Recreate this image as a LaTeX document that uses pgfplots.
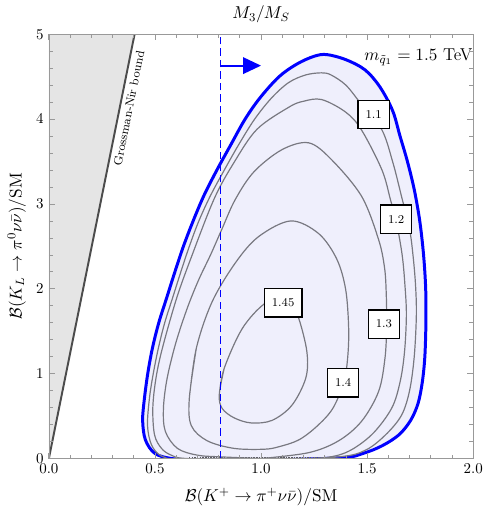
\documentclass[border=0pt]{standalone}
\usepackage{fix-cm}
\usepackage{pgfplots}
\pgfplotsset{compat=1.18}
\usetikzlibrary{arrows.meta}
\definecolor{lav}{rgb}{0.937,0.937,0.988}
\definecolor{cgray}{rgb}{0.47,0.47,0.5}
\definecolor{axgray}{rgb}{0.6,0.6,0.6}
\definecolor{gnfill}{rgb}{0.9,0.9,0.9}
\definecolor{gnline}{rgb}{0.3,0.3,0.3}
\definecolor{noise}{rgb}{0.35,0.35,0.38}
\newcommand{\lbl}{\fontsize{11.5}{13}\selectfont}
\tikzset{
    contour/.style={cgray, line width=0.8pt, smooth, tension=0.55},
    clabel/.style={draw=black, line width=0.9pt, fill=white, font=\footnotesize,
        inner xsep=5pt, minimum width=20pt, minimum height=19pt},
}
\begin{document}
\begin{tikzpicture}
\begin{axis}[
    scale only axis, width=284pt, height=284pt,
    xmin=0, xmax=2, ymin=0, ymax=5,
    xtick={0,0.5,1,1.5,2}, ytick={0,1,2,3,4,5},
    minor x tick num=4, minor y tick num=4,
    xticklabel style={/pgf/number format/fixed, /pgf/number format/fixed zerofill, /pgf/number format/precision=1},
    axis line style={axgray}, tick style={axgray, line width=0.5pt},
    major tick length=4pt, minor tick length=2.5pt,
    xlabel={\lbl $\mathcal{B}(K^+\to\pi^+\nu\bar\nu)/\mathrm{SM}$},
    ylabel={\lbl $\mathcal{B}(K_L\to\pi^0\nu\bar\nu)/\mathrm{SM}$},
    xlabel style={yshift=-3pt},
    title={\lbl $M_3/M_S$},
    title style={yshift=-2pt},
    axis on top,
]
% Grossman-Nir excluded region
\addplot[fill=gnfill, draw=none] coordinates {(0,0) (0.404,5) (0,5)} -- cycle;
\addplot[gnline, line width=1.3pt] coordinates {(0,0) (0.404,5)};

% outer boundary (blue)
\addplot[draw=blue, line width=2pt, fill=lav, smooth, tension=0.55] coordinates {
(1.0,-0.02) (1.38,0.01) (1.48,0.06) (1.57,0.15) (1.65,0.28) (1.705,0.45) (1.74,0.65)
(1.760,0.90) (1.772,1.20) (1.777,1.60) (1.776,2.00) (1.766,2.40) (1.748,2.80)
(1.722,3.17) (1.690,3.50) (1.655,3.80) (1.620,4.10) (1.560,4.38) (1.49,4.58)
(1.40,4.70) (1.31,4.76) (1.25,4.74) (1.17,4.65) (1.085,4.50) (0.995,4.25)
(0.925,4.00) (0.858,3.70) (0.792,3.40) (0.731,3.10) (0.680,2.80) (0.634,2.50)
(0.594,2.20) (0.556,1.90) (0.518,1.60) (0.488,1.30) (0.466,1.00) (0.450,0.70)
(0.442,0.45) (0.455,0.22) (0.50,0.06) (0.58,0.00) (0.70,-0.02) (1.0,-0.02)};

% numerical noise along the lower edge
\addplot[draw=noise, line width=0.8pt, dash pattern=on 1pt off 0.8pt] coordinates {(0.66,0.015) (1.33,0.015)};

% 1.1
\addplot[contour] coordinates {
(1.0,-0.02) (1.366,0.02) (1.493,0.10) (1.587,0.28) (1.662,0.51) (1.700,0.80)
(1.722,1.20) (1.732,1.69) (1.728,2.05) (1.716,2.40) (1.700,2.70) (1.662,3.09)
(1.620,3.50) (1.568,3.88) (1.465,4.20) (1.40,4.40) (1.33,4.52) (1.285,4.545)
(1.21,4.52) (1.13,4.43) (1.05,4.25) (0.970,4.00) (0.895,3.70) (0.827,3.40)
(0.762,3.10) (0.707,2.80) (0.662,2.50) (0.622,2.20) (0.584,1.90) (0.546,1.60)
(0.516,1.30) (0.492,1.00) (0.474,0.71) (0.465,0.39) (0.484,0.16) (0.531,0.03)
(0.620,-0.01) (1.0,-0.02)};
% 1.2
\addplot[contour] coordinates {
(1.0,-0.02) (1.258,0.0) (1.399,0.07) (1.521,0.28) (1.615,0.59) (1.655,0.90)
(1.676,1.25) (1.685,1.69) (1.678,2.05) (1.665,2.40) (1.637,2.80) (1.610,3.05)
(1.570,3.40) (1.474,3.87) (1.40,4.08) (1.286,4.23) (1.20,4.21) (1.131,4.14)
(0.981,3.88) (0.873,3.49) (0.779,3.06) (0.668,2.35) (0.601,1.88) (0.535,1.30)
(0.505,0.95) (0.490,0.60) (0.498,0.28) (0.531,0.12) (0.577,0.04) (0.653,0.0)
(1.0,-0.02)};
% 1.3
\addplot[contour] coordinates {
(1.0,0.0) (1.225,0.07) (1.366,0.21) (1.474,0.44) (1.554,0.79) (1.584,1.18)
(1.592,1.56) (1.590,1.95) (1.582,2.25) (1.554,2.58) (1.474,3.09) (1.333,3.52)
(1.225,3.72) (1.099,3.64) (0.967,3.38) (0.878,3.05) (0.815,2.70) (0.762,2.40)
(0.705,2.10) (0.652,1.77) (0.598,1.36) (0.557,0.94) (0.540,0.59) (0.549,0.32)
(0.606,0.12) (0.700,0.04) (0.812,0.02) (1.0,0.0)};
% 1.4
\addplot[contour] coordinates {
(0.662,0.71) (0.695,1.30) (0.770,1.85) (0.883,2.32) (0.991,2.62) (1.141,2.80)
(1.272,2.65) (1.357,2.35) (1.399,1.99) (1.413,1.53) (1.408,1.18) (1.390,0.90)
(1.338,0.59) (1.263,0.38) (1.178,0.22) (1.085,0.14) (1.014,0.11) (0.873,0.12)
(0.746,0.21) (0.671,0.39) (0.662,0.71) (0.695,1.30)};
% 1.45
\addplot[contour] coordinates {
(0.803,0.75) (0.826,1.06) (0.911,1.53) (1.014,1.82) (1.099,1.88) (1.141,1.82)
(1.178,1.65) (1.216,1.26) (1.211,0.95) (1.146,0.63) (1.052,0.45) (0.953,0.42)
(0.873,0.48) (0.817,0.59) (0.803,0.75) (0.826,1.06)};

% cut on M3/MS
\addplot[draw=blue, line width=0.8pt, dash pattern=on 5pt off 2.7pt] coordinates {(0.808,0) (0.808,5)};
\addplot[color=blue, solid, line width=1.3pt, -{Triangle[length=12pt,width=11pt]}] coordinates {(0.808,4.63) (1.0,4.63)};

\node[clabel] at (axis cs:1.531,4.053) {1.1};
\node[clabel] at (axis cs:1.637,2.82) {1.2};
\node[clabel] at (axis cs:1.579,1.585) {1.3};
\node[clabel] at (axis cs:1.387,0.891) {1.4};
\node[clabel] at (axis cs:1.104,1.835) {1.45};

\node[font=\lbl] at (axis cs:1.742,4.73) {$m_{\tilde q_1} = 1.5$ TeV};
\node[font=\footnotesize, rotate=78.6, anchor=north, inner sep=3pt] at (axis cs:0.335,4.15) {Grossman-Nir bound};
\end{axis}
\path ([shift={(-32.7pt,-33.5pt)}]current axis.south west) rectangle ([shift={(8pt,22.9pt)}]current axis.north east);
\end{tikzpicture}
\end{document}
